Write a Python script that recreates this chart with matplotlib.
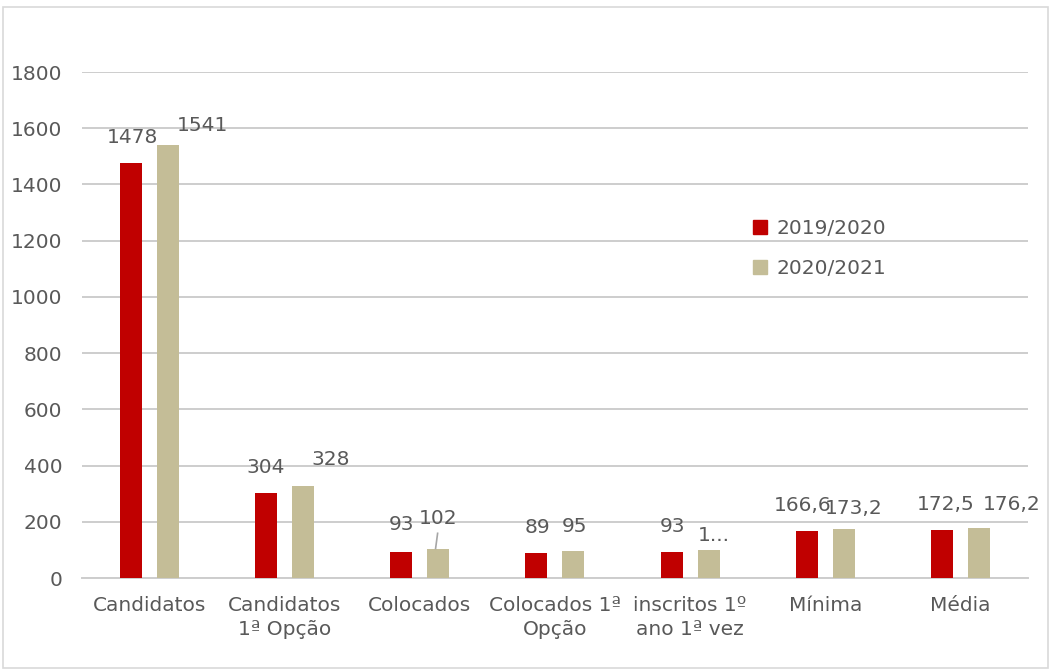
import matplotlib.pyplot as plt
import numpy as np
from matplotlib.patches import Patch, Rectangle

categorias = ["Candidatos", "Candidatos\n1ª Opção", "Colocados", "Colocados 1ª\nOpção",
              "inscritos 1º\nano 1ª vez", "Mínima", "Média"]
series = ["2019/2020", "2020/2021"]
valores_2019 = [1478, 304, 93, 89, 93, 166.6, 172.5]
valores_2020 = [1541, 328, 102, 95, 101, 173.2, 176.2]
yticks = [0, 200, 400, 600, 800, 1000, 1200, 1400, 1600, 1800]

# deslocamentos dos rotulos (pixels) - como ficaram no Excel
desl_2019 = [(2, 25), (0, 25), (0, 27), (1, 25), (1, 25), (-4, 26), (4, 25)]
desl_2020 = [(35, 19), (28, 26), (0, 31), (1, 25), (5, 14), (10, 21), (33, 24)]

vermelho = "#C00000"
bege = "#C4BD97"
cinza = "#595959"
fs = 14.5

plt.rcParams['font.family'] = ['DejaVu Sans']

fig = plt.figure(figsize=(10.5, 6.7), dpi=100)
ax = fig.add_axes([0.078, 0.1373, 0.901, 0.7552])

x = np.arange(len(categorias))
w = 0.163
off = 0.137
b1 = ax.bar(x - off, valores_2019, w, color=vermelho, zorder=3)
b2 = ax.bar(x + off, valores_2020, w, color=bege, zorder=3)


def rotulo(v):
    if float(v).is_integer():
        return str(int(v))
    return ("%.1f" % v).replace(".", ",")


for i in range(len(categorias)):
    ax.annotate(rotulo(valores_2019[i]), (x[i] - off, valores_2019[i]),
                xytext=desl_2019[i], textcoords="offset pixels",
                ha="center", va="center", fontsize=fs, color=cinza)
    txt = rotulo(valores_2020[i])
    if i == 4:
        txt = "1..."
    ax.annotate(txt, (x[i] + off, valores_2020[i]),
                xytext=desl_2020[i], textcoords="offset pixels",
                ha="center", va="center", fontsize=fs, color=cinza)

# linha de chamada do 102
ax.plot([x[2] + off - 0.02, x[2] + off - 0.005], [valores_2020[2] + 3, valores_2020[2] + 57],
        color="#A6A6A6", lw=1.2, zorder=4)

ax.set_xlim(-0.5, len(categorias) - 0.5)
ax.set_ylim(0, 1800)
ax.set_yticks(yticks)
ax.set_xticks(x)
ax.set_xticklabels(categorias, fontsize=fs, color=cinza, linespacing=1.3)
ax.tick_params(axis="y", labelsize=fs, colors=cinza, length=0, pad=14)
ax.tick_params(axis="x", length=0, pad=13)
ax.grid(axis="y", color="#CDCDCD", lw=1.4, zorder=0)
for s in ["top", "right", "left"]:
    ax.spines[s].set_visible(False)
ax.spines["bottom"].set_color("#CDCDCD")
ax.spines["bottom"].set_linewidth(1.4)

handles = [Patch(color=vermelho), Patch(color=bege)]
fig.legend(handles, series, loc="upper left", bbox_to_anchor=(0.7, 0.7),
           frameon=False, fontsize=fs, labelcolor=cinza,
           handlelength=0.7, handleheight=0.7, handletextpad=0.45, labelspacing=1.05)

fig.patches.append(Rectangle((0.003, 0.003), 0.995, 0.987, transform=fig.transFigure,
                             fill=False, edgecolor="#D9D9D9", lw=1.2))

fig.savefig("out.png", dpi=100)
